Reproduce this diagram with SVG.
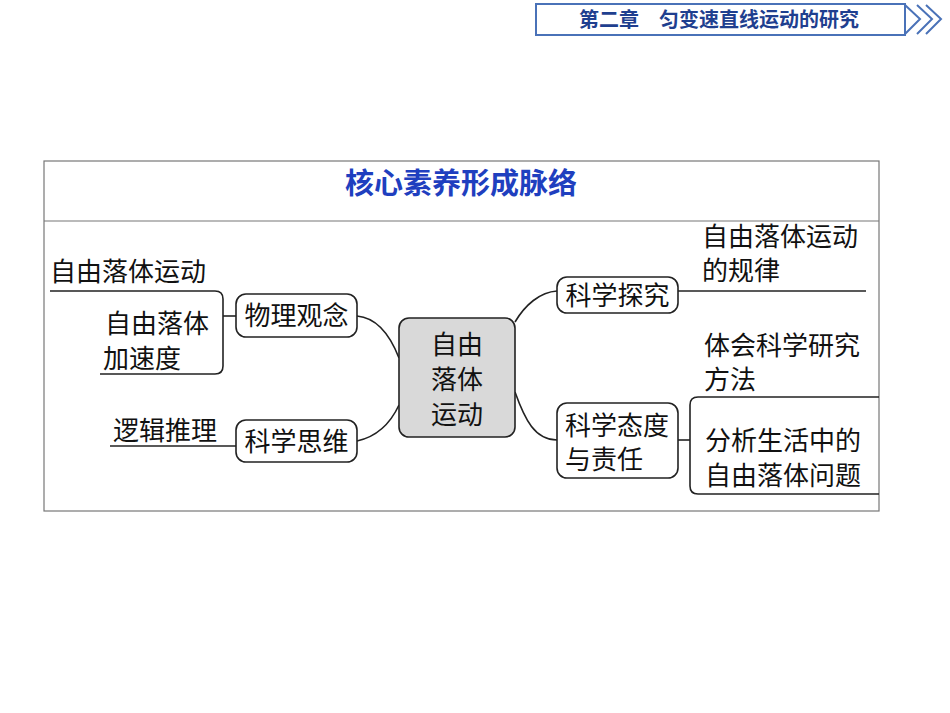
<svg xmlns="http://www.w3.org/2000/svg" width="950" height="713" viewBox="0 0 950 713">
<style>
text{font-family:"Noto Sans CJK SC","Liberation Sans",sans-serif;fill:#111}
.t{font-size:26px}
.box{fill:#fff;stroke:#222;stroke-width:1.6}
.ln{fill:none;stroke:#222;stroke-width:1.6}
</style>
<rect width="950" height="713" fill="#fff"/>
<g id="header">
<rect x="536" y="4" width="369" height="31" fill="#fff" stroke="#4a72b8" stroke-width="2"/>
<text x="719" y="27" text-anchor="middle" style="font-size:20px;font-weight:bold;fill:#1f3f8f">第二章　匀变速直线运动的研究</text>
<path d="M905,5 L920,19 L905,34 M917,5 L932,19 L917,34 M926,5 L941,19 L926,34" fill="none" stroke="#4a72b8" stroke-width="2"/>
</g>
<g id="frame">
<rect x="44" y="161" width="835" height="350" fill="none" stroke="#777" stroke-width="1.2"/>
<line x1="44" y1="221" x2="879" y2="221" stroke="#777" stroke-width="1.2"/>
<text x="461" y="194" text-anchor="middle" style="font-size:29px;font-weight:bold;fill:#1f3fbf">核心素养形成脉络</text>
</g>
<g id="connectors">
<path class="ln" d="M50,291 H215 Q223,291 223,299 V366 Q223,374 215,374 H100"/>
<line class="ln" x1="223" y1="316" x2="236" y2="316"/>
<line class="ln" x1="110" y1="446" x2="236" y2="446"/>
<path class="ln" d="M357,316 C380,318 392,340 399,358"/>
<path class="ln" d="M357,441 C380,436 392,420 399,405"/>
<path class="ln" d="M515,322 C525,305 540,292 557,291"/>
<path class="ln" d="M515,392 C525,420 535,440 557,440"/>
<line class="ln" x1="678" y1="291" x2="866" y2="291"/>
<path class="ln" d="M879,397 H698 Q690,397 690,405 V486 Q690,494 698,494 H879"/>
<line class="ln" x1="678" y1="440" x2="690" y2="440"/>
</g>
<g id="center">
<rect x="399" y="318" width="116" height="119" rx="10" fill="#d9d9d9" stroke="#222" stroke-width="1.6"/>
<text class="t" x="457" y="354" text-anchor="middle">自由</text>
<text class="t" x="457" y="389" text-anchor="middle">落体</text>
<text class="t" x="457" y="424" text-anchor="middle">运动</text>
</g>
<g id="n1"><rect class="box" x="236" y="294" width="121" height="43" rx="10"/><text class="t" x="296.5" y="325" text-anchor="middle">物理观念</text></g>
<g id="n2"><rect class="box" x="236" y="420" width="121" height="42" rx="10"/><text class="t" x="296.5" y="451" text-anchor="middle">科学思维</text></g>
<g id="n3"><rect class="box" x="557" y="277" width="121" height="36" rx="10"/><text class="t" x="617.5" y="305" text-anchor="middle">科学探究</text></g>
<g id="n4"><rect class="box" x="557" y="403" width="121" height="75" rx="10"/><text class="t" x="565" y="435">科学态度</text><text class="t" x="565" y="469">与责任</text></g>
<g id="labels">
<text class="t" x="50" y="281">自由落体运动</text>
<text class="t" x="105" y="333">自由落体</text>
<text class="t" x="103" y="368">加速度</text>
<text class="t" x="113" y="440">逻辑推理</text>
<text class="t" x="702" y="246">自由落体运动</text>
<text class="t" x="702" y="280">的规律</text>
<text class="t" x="704" y="355">体会科学研究</text>
<text class="t" x="704" y="389">方法</text>
<text class="t" x="705" y="450">分析生活中的</text>
<text class="t" x="705" y="485">自由落体问题</text>
</g>
</svg>
